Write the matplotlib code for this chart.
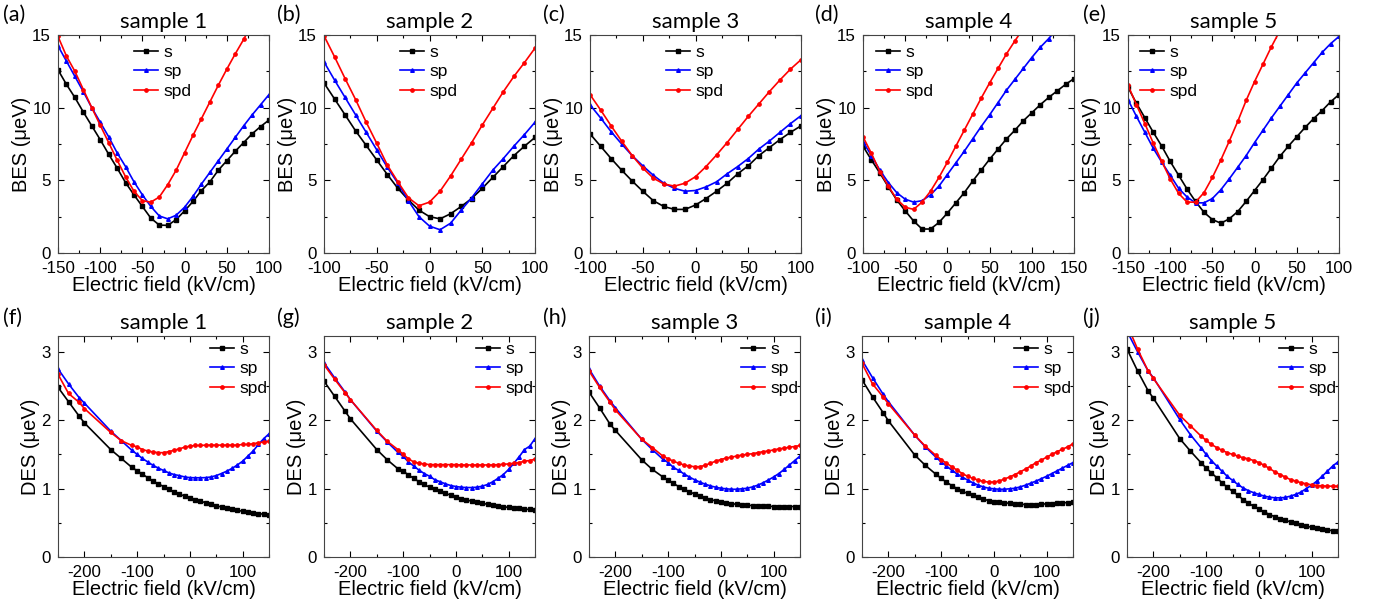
import matplotlib
matplotlib.use("Agg")
import matplotlib.pyplot as plt
from matplotlib.ticker import MultipleLocator
import numpy as np

# ---- data: binding energy splitting (top row) ----
x_a = np.arange(-150, 101, 10)
bes_a_s = [12.6, 11.6, 10.7, 9.7, 8.75, 7.8, 6.8, 5.85, 4.85, 4.0, 3.2, 2.4, 1.92, 1.9,
           2.3, 2.9, 3.55, 4.3, 4.9, 5.7, 6.35, 7.0, 7.6, 8.2, 8.7, 9.15]
bes_a_sp = [14.25, 13.2, 12.15, 11.1, 10.0, 9.0, 8.0, 6.9, 5.95, 4.9, 4.0, 3.2, 2.55, 2.35,
            2.6, 3.15, 3.9, 4.75, 5.55, 6.35, 7.15, 7.95, 8.75, 9.5, 10.2, 10.9]
bes_a_spd = [14.9, 13.55, 12.5, 11.25, 10.0, 8.8, 7.6, 6.4, 5.25, 4.25, 3.6, 3.5, 3.85, 4.7,
             5.7, 6.9, 8.1, 9.25, 10.4, 11.55, 12.65, 13.7, 14.7, 15.8]

x_b = np.arange(-100, 101, 10)
bes_b_s = [11.7, 10.6, 9.5, 8.4, 7.4, 6.4, 5.4, 4.45, 3.65, 2.95, 2.5, 2.35, 2.7, 3.2, 3.75,
           4.45, 5.2, 5.95, 6.7, 7.35, 7.95]
bes_b_sp = [13.15, 11.9, 10.7, 9.5, 8.3, 7.1, 5.9, 4.8, 3.6, 2.5, 1.85, 1.6, 2.05, 2.95, 3.8,
            4.75, 5.7, 6.5, 7.35, 8.15, 9.0]
bes_b_spd = [14.95, 13.5, 12.0, 10.55, 9.0, 7.55, 6.05, 4.9, 3.8, 3.25, 3.5, 4.25, 5.3, 6.45,
             7.6, 8.8, 9.95, 11.1, 12.15, 13.1, 14.1]

x_c = np.arange(-100, 101, 10)
bes_c_s = [8.2, 7.35, 6.5, 5.7, 4.95, 4.25, 3.6, 3.2, 3.0, 3.0, 3.3, 3.75, 4.25, 4.8, 5.45,
           6.0, 6.7, 7.25, 7.8, 8.3, 8.75]
bes_c_sp = [10.2, 9.3, 8.35, 7.5, 6.7, 6.0, 5.35, 4.8, 4.45, 4.25, 4.3, 4.55, 4.9, 5.45, 5.95,
            6.5, 7.15, 7.7, 8.3, 8.9, 9.45]
bes_c_spd = [10.9, 9.85, 8.75, 7.7, 6.7, 5.85, 5.15, 4.75, 4.6, 4.8, 5.25, 5.95, 6.75, 7.6,
             8.5, 9.4, 10.25, 11.1, 11.9, 12.65, 13.3]

x_d = np.arange(-100, 151, 10)
bes_d_s = [7.35, 6.4, 5.5, 4.55, 3.65, 2.9, 2.2, 1.65, 1.65, 2.1, 2.75, 3.45, 4.15, 4.95, 5.7,
           6.45, 7.15, 7.85, 8.45, 9.1, 9.65, 10.2, 10.7, 11.15, 11.6, 12.0]
bes_d_sp = [7.65, 6.7, 5.7, 4.85, 4.15, 3.7, 3.5, 3.6, 4.0, 4.6, 5.4, 6.2, 7.0, 7.85, 8.7,
            9.5, 10.35, 11.2, 11.95, 12.7, 13.45, 14.15, 14.75, 15.45]
bes_d_spd = [8.0, 6.85, 5.6, 4.6, 3.7, 3.15, 3.0, 3.5, 4.25, 5.2, 6.25, 7.35, 8.45, 9.55,
             10.65, 11.7, 12.7, 13.7, 14.6, 15.45]

x_e = np.arange(-150, 101, 10)
bes_e_s = [11.4, 10.3, 9.3, 8.3, 7.35, 6.3, 5.35, 4.4, 3.55, 2.8, 2.3, 2.05, 2.35, 2.85, 3.55,
           4.3, 5.05, 5.85, 6.65, 7.35, 8.0, 8.65, 9.25, 9.8, 10.4, 10.9]
bes_e_sp = [10.55, 9.4, 8.3, 7.2, 6.25, 5.35, 4.45, 3.85, 3.45, 3.45, 3.75, 4.35, 5.1, 5.9,
            6.7, 7.6, 8.45, 9.3, 10.1, 10.9, 11.7, 12.4, 13.1, 13.8, 14.4, 14.9]
bes_e_spd = [11.55, 10.2, 8.9, 7.55, 6.3, 5.1, 4.1, 3.5, 3.5, 4.15, 5.2, 6.4, 7.7, 9.05,
             10.5, 11.8, 13.0, 14.2, 15.3]

# ---- data: dark exciton splitting (bottom row) ----
x_des = np.array([-250, -230, -210, -200, -150, -130, -110] + list(range(-100, 151, 10)))

des_f_s = [2.48, 2.27, 2.06, 1.96, 1.57, 1.44, 1.31, 1.26, 1.21, 1.16, 1.11, 1.07, 1.03, 0.99,
           0.95, 0.92, 0.89, 0.865, 0.84, 0.82, 0.79, 0.77, 0.75, 0.73, 0.71, 0.70, 0.68, 0.67,
           0.655, 0.645, 0.635, 0.625, 0.615]
des_f_sp = [2.75, 2.53, 2.33, 2.25, 1.84, 1.70, 1.56, 1.50, 1.44, 1.39, 1.34, 1.30, 1.265,
            1.23, 1.205, 1.19, 1.17, 1.16, 1.158, 1.158, 1.16, 1.17, 1.19, 1.22, 1.255, 1.295,
            1.345, 1.40, 1.475, 1.55, 1.645, 1.73, 1.80]
des_f_spd = [2.67, 2.39, 2.26, 2.17, 1.82, 1.70, 1.63, 1.61, 1.57, 1.55, 1.535, 1.525, 1.525,
             1.54, 1.56, 1.58, 1.605, 1.62, 1.63, 1.63, 1.635, 1.635, 1.635, 1.635, 1.635,
             1.635, 1.635, 1.645, 1.645, 1.655, 1.67, 1.68, 1.69]

des_g_s = [2.57, 2.35, 2.13, 2.02, 1.57, 1.42, 1.29, 1.255, 1.2, 1.15, 1.10, 1.06, 1.02, 0.99,
           0.96, 0.93, 0.905, 0.88, 0.855, 0.835, 0.815, 0.80, 0.785, 0.77, 0.76, 0.745, 0.735,
           0.725, 0.715, 0.71, 0.70, 0.695, 0.69]
des_g_sp = [2.84, 2.62, 2.41, 2.30, 1.84, 1.68, 1.53, 1.47, 1.39, 1.33, 1.27, 1.22, 1.18, 1.13,
            1.10, 1.07, 1.045, 1.03, 1.02, 1.015, 1.015, 1.02, 1.035, 1.06, 1.10, 1.15, 1.205,
            1.28, 1.37, 1.465, 1.57, 1.62, 1.73]
des_g_spd = [2.81, 2.60, 2.40, 2.30, 1.85, 1.69, 1.57, 1.50, 1.435, 1.39, 1.37, 1.36, 1.35,
             1.35, 1.35, 1.35, 1.35, 1.35, 1.345, 1.345, 1.345, 1.345, 1.345, 1.345, 1.345,
             1.35, 1.355, 1.36, 1.37, 1.38, 1.40, 1.41, 1.43]

des_h_s = [2.41, 2.18, 1.94, 1.85, 1.42, 1.28, 1.17, 1.12, 1.075, 1.03, 0.99, 0.955, 0.92,
           0.89, 0.865, 0.84, 0.82, 0.805, 0.79, 0.78, 0.77, 0.76, 0.757, 0.752, 0.747, 0.742,
           0.742, 0.738, 0.738, 0.738, 0.738, 0.738, 0.738]
des_h_sp = [2.75, 2.50, 2.28, 2.18, 1.72, 1.57, 1.43, 1.38, 1.31, 1.265, 1.215, 1.17, 1.13,
            1.095, 1.065, 1.04, 1.02, 1.005, 0.997, 0.99, 0.99, 0.997, 1.005, 1.025, 1.05,
            1.085, 1.125, 1.17, 1.22, 1.28, 1.345, 1.41, 1.475]
des_h_spd = [2.72, 2.48, 2.26, 2.15, 1.72, 1.60, 1.475, 1.435, 1.40, 1.37, 1.345, 1.33, 1.32,
             1.32, 1.34, 1.37, 1.40, 1.425, 1.445, 1.46, 1.475, 1.49, 1.50, 1.51, 1.525, 1.54,
             1.55, 1.565, 1.58, 1.59, 1.605, 1.615, 1.63]

des_i_s = [2.59, 2.34, 2.11, 1.99, 1.49, 1.34, 1.21, 1.15, 1.095, 1.045, 1.00, 0.96, 0.93,
           0.90, 0.87, 0.845, 0.825, 0.81, 0.80, 0.79, 0.787, 0.777, 0.772, 0.767, 0.767,
           0.767, 0.772, 0.777, 0.78, 0.787, 0.79, 0.796, 0.80]
des_i_sp = [2.88, 2.62, 2.38, 2.27, 1.78, 1.61, 1.46, 1.39, 1.33, 1.27, 1.215, 1.17, 1.125,
            1.085, 1.05, 1.025, 1.005, 0.997, 0.99, 0.99, 0.997, 1.005, 1.025, 1.05, 1.08,
            1.11, 1.145, 1.18, 1.22, 1.26, 1.30, 1.34, 1.38]
des_i_spd = [2.83, 2.53, 2.34, 2.24, 1.78, 1.62, 1.485, 1.425, 1.37, 1.32, 1.27, 1.22, 1.18,
             1.15, 1.125, 1.105, 1.095, 1.095, 1.11, 1.14, 1.17, 1.205, 1.245, 1.285, 1.33,
             1.38, 1.415, 1.46, 1.50, 1.54, 1.575, 1.61, 1.655]

des_j_s = [3.04, 2.72, 2.43, 2.32, 1.73, 1.55, 1.38, 1.30, 1.23, 1.16, 1.085, 1.02, 0.96,
           0.905, 0.84, 0.79, 0.74, 0.70, 0.66, 0.62, 0.59, 0.56, 0.537, 0.513, 0.49, 0.47,
           0.45, 0.435, 0.42, 0.405, 0.395, 0.385, 0.375]
des_j_sp = [3.3, 3.0, 2.72, 2.62, 2.01, 1.79, 1.60, 1.50, 1.41, 1.33, 1.255, 1.18, 1.12, 1.06,
            1.01, 0.97, 0.94, 0.915, 0.89, 0.875, 0.865, 0.865, 0.87, 0.89, 0.915, 0.95, 1.00,
            1.05, 1.11, 1.18, 1.255, 1.33, 1.39]
des_j_spd = [3.4, 3.04, 2.72, 2.61, 2.07, 1.92, 1.77, 1.705, 1.645, 1.60, 1.56, 1.525, 1.50,
             1.475, 1.45, 1.435, 1.41, 1.38, 1.34, 1.295, 1.245, 1.205, 1.17, 1.13, 1.11,
             1.085, 1.07, 1.055, 1.045, 1.04, 1.035, 1.035, 1.035]

samples = ["sample 1", "sample 2", "sample 3", "sample 4", "sample 5"]
series_labels = ["s", "sp", "spd"]
top_letters = ["(a)", "(b)", "(c)", "(d)", "(e)"]
bottom_letters = ["(f)", "(g)", "(h)", "(i)", "(j)"]

top_data = [
    (x_a, bes_a_s, bes_a_sp, bes_a_spd, (-150, 100)),
    (x_b, bes_b_s, bes_b_sp, bes_b_spd, (-100, 100)),
    (x_c, bes_c_s, bes_c_sp, bes_c_spd, (-100, 100)),
    (x_d, bes_d_s, bes_d_sp, bes_d_spd, (-100, 150)),
    (x_e, bes_e_s, bes_e_sp, bes_e_spd, (-150, 100)),
]
bottom_data = [
    (des_f_s, des_f_sp, des_f_spd),
    (des_g_s, des_g_sp, des_g_spd),
    (des_h_s, des_h_sp, des_h_spd),
    (des_i_s, des_i_sp, des_i_spd),
    (des_j_s, des_j_sp, des_j_spd),
]

# ---- layout / style ----
W, H = 1380, 606
TOP_LEFTS = [58, 324, 590, 863, 1128]
BOT_LEFTS = [58, 324, 589, 862, 1127]
AX_W = 211
LETTER_X = [3, 277, 543, 815, 1083]
TOP_LEG_X = [0.36, 0.36, 0.36, 0.06, 0.055]
STYLES = [("black", "s", 2.2), ("blue", "^", 2.6), ("red", "o", 2.4)]

plt.rcParams["font.family"] = ["Liberation Sans", "DejaVu Sans"]
plt.rcParams["axes.unicode_minus"] = False
TITLE_FONT = ["Lato", "DejaVu Sans"]

fig = plt.figure(figsize=(W / 100, H / 100), dpi=100)


def _style_axes(ax, xlim, ylim, ymajor, xmajor):
    ax.set_xlim(*xlim)
    ax.set_ylim(*ylim)
    ax.xaxis.set_major_locator(MultipleLocator(xmajor))
    ax.xaxis.set_minor_locator(MultipleLocator(xmajor / 2))
    ax.yaxis.set_major_locator(MultipleLocator(ymajor))
    ax.yaxis.set_minor_locator(MultipleLocator(ymajor / 2))
    ax.tick_params(which="both", direction="in", top=True, right=True, labelsize=12.2)
    ax.tick_params(axis="x", pad=5.5)
    ax.tick_params(axis="y", pad=5)
    ax.tick_params(which="major", length=4, width=0.8)
    ax.tick_params(which="minor", length=2.5, width=0.8)
    for spine in ax.spines.values():
        spine.set_linewidth(0.8)
        spine.set_color("#444444")
    ax.set_xlabel("Electric field (kV/cm)", fontsize=14.5, labelpad=0)


def _plot_series(ax, x, ys):
    for y, label, (color, marker, ms) in zip(ys, series_labels, STYLES):
        ax.plot(x[:len(y)], y, color=color, marker=marker, markersize=ms, linewidth=1.2,
                label=label)


for i in range(5):
    # top row
    x, s, sp, spd, xlim = top_data[i]
    ax = fig.add_axes([TOP_LEFTS[i] / W, 1 - 253 / H, AX_W / W, 218 / H])
    _plot_series(ax, x, [s, sp, spd])
    _style_axes(ax, xlim, (0, 15), 5, 50)
    ax.set_ylabel("BES (μeV)", fontsize=14.5, labelpad=1)
    ax.set_title(samples[i], fontsize=16, family=TITLE_FONT, pad=5)
    ax.legend(loc="upper left", bbox_to_anchor=(TOP_LEG_X[i], 0.955), frameon=False,
              fontsize=12.5, handlelength=1.4, handletextpad=0.3, labelspacing=0.25,
              borderpad=0, borderaxespad=0)
    fig.text(LETTER_X[i] / W, 1 - 15 / H, top_letters[i], fontsize=15.5, family=TITLE_FONT,
             va="center", ha="left")

    # bottom row
    ax = fig.add_axes([BOT_LEFTS[i] / W, 1 - 557 / H, AX_W / W, 221 / H])
    _plot_series(ax, x_des, bottom_data[i])
    _style_axes(ax, (-250, 150), (0, 3.23), 1, 100)
    ax.set_ylabel("DES (μeV)", fontsize=14.5, labelpad=1)
    ax.set_title(samples[i], fontsize=16, family=TITLE_FONT, pad=5)
    ax.legend(loc="upper left", bbox_to_anchor=(0.72, 0.975), frameon=False,
              fontsize=12.5, handlelength=1.4, handletextpad=0.3, labelspacing=0.25,
              borderpad=0, borderaxespad=0)
    fig.text(LETTER_X[i] / W, 1 - 318 / H, bottom_letters[i], fontsize=15.5,
             family=TITLE_FONT, va="center", ha="left")

fig.savefig("out.png", dpi=100)
